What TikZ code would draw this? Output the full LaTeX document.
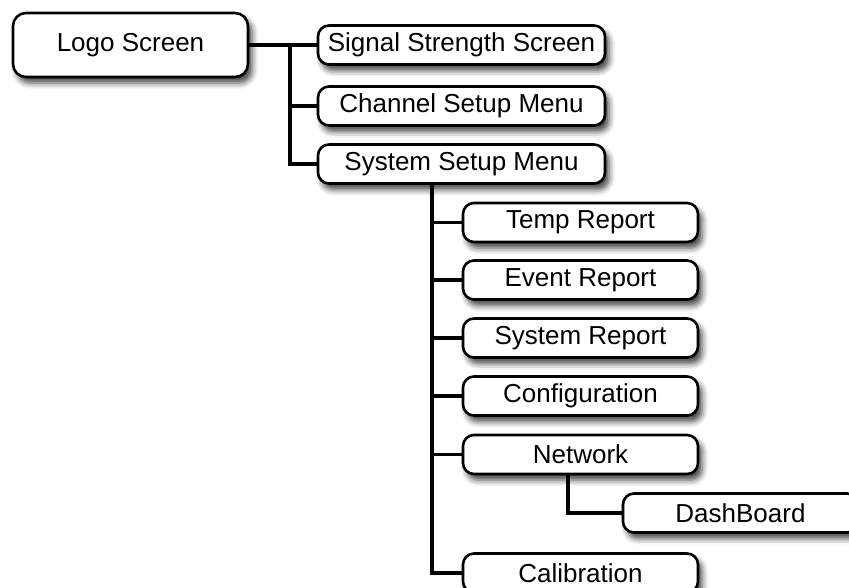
\documentclass[tikz,border=0pt]{standalone}
\usepackage{fontspec}
\setmainfont{Liberation Sans}
\usetikzlibrary{shadows.blur}

\begin{document}
\begin{tikzpicture}[x=1pt, y=1pt,
    box/.style={draw, line width=2.6pt, rounded corners=11pt, fill=white,
      inner sep=0pt, minimum height=39pt,
      blur shadow={shadow xshift=4pt, shadow yshift=-6pt, shadow blur radius=6pt, shadow opacity=75},
      font=\fontsize{26}{30}\selectfont},
    top/.style={box, minimum width=235pt, minimum height=64pt, rounded corners=13pt},
    menu/.style={box, minimum width=287pt},
    item/.style={box, minimum width=235pt},
    link/.style={line width=3.2pt}]
    \useasboundingbox (0,0) rectangle (849,-588);
    % Nodes
    \node[top] (logo) at (130.5,-45) {Logo Screen};
    \node[menu] (signal) at (461.5,-45) {Signal Strength Screen};
    \node[menu] (channel) at (461.5,-106) {Channel Setup Menu};
    \node[menu] (system) at (461.5,-164) {System Setup Menu};
    \node[item] (temp) at (580.5,-222.5) {Temp Report};
    \node[item] (event) at (580.5,-280) {Event Report};
    \node[item] (sysrep) at (580.5,-338) {System Report};
    \node[item] (config) at (580.5,-396) {Configuration};
    \node[item] (network) at (580.5,-454.5) {Network};
    \node[item] (dash) at (740.5,-513) {DashBoard};
    \node[item] (calib) at (580.5,-573) {Calibration};
    % Links
    \coordinate (bus) at (290,-45);
    \draw[link] (logo) -- (signal);
    \draw[link] (bus) |- (channel.west);
    \draw[link] (bus) |- (system.west);
    \foreach \t in {temp,event,sysrep,config,network,calib}
      \draw[link] ([xshift=-29.5pt]system.south) |- (\t.west);
    \draw[link] ([xshift=-12.5pt]network.south) |- (dash.west);
\end{tikzpicture}
\end{document}
